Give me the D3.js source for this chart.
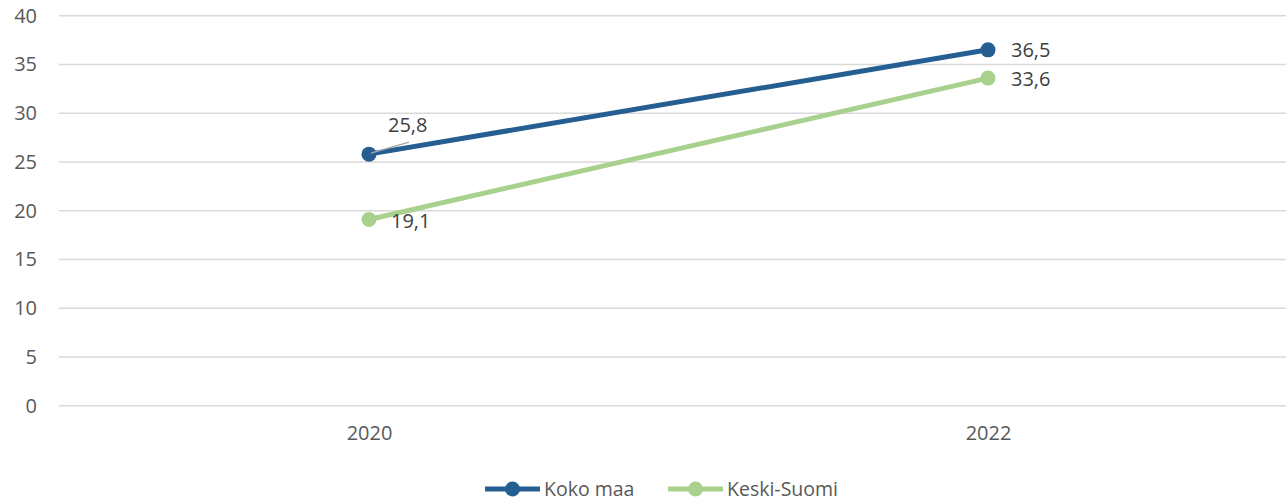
<!DOCTYPE html>
<html>
<head>
<meta charset="utf-8">
<script src="https://cdn.jsdelivr.net/npm/d3@7"></script>
<style>
  html, body { margin: 0; padding: 0; background: #fff; }
  svg { display: block; font-family: "Open Sans", sans-serif; }
</style>
</head>
<body>
<svg id="chart" width="1286" height="501"></svg>
<script>
// Data
const years = ["2020", "2022"];
const kokoMaa = [25.8, 36.5];
const keskiSuomi = [19.1, 33.6];
const yTicks = [0, 5, 10, 15, 20, 25, 30, 35, 40];
const seriesNames = ["Koko maa", "Keski-Suomi"];
const seriesColors = ["#255E91", "#A9D18E"];

const fmt = v => String(v.toFixed(1)).replace(".", ",");

const svg = d3.select("#chart");
const W = 1286;

const x = d3.scalePoint().domain(years).range([369, 988]);
const y = d3.scaleLinear().domain([0, 40]).range([405.7, 15.7]);

const textColor = "#595959";
const fontSize = 20;

// Gridlines
svg.append("g")
  .selectAll("line")
  .data(yTicks)
  .join("line")
  .attr("x1", 59).attr("x2", W)
  .attr("y1", d => y(d)).attr("y2", d => y(d))
  .attr("stroke", "#D9D9D9").attr("stroke-width", 1.5);

// Y axis labels
const yAxis = d3.axisLeft(y).tickValues(yTicks).tickSize(0).tickPadding(0);
const gy = svg.append("g").attr("transform", "translate(37,0)").call(yAxis);
gy.select(".domain").remove();
gy.selectAll("text").attr("fill", textColor).attr("font-size", fontSize)
  .attr("font-family", "Open Sans, sans-serif");

// X axis labels
const xAxis = d3.axisBottom(x).tickSize(0).tickPadding(0);
const gx = svg.append("g").attr("transform", "translate(0,426)").call(xAxis);
gx.select(".domain").remove();
gx.selectAll("text").attr("fill", textColor).attr("font-size", fontSize)
  .attr("font-family", "Open Sans, sans-serif");

const series = [kokoMaa, keskiSuomi];
const line = d3.line().x((d, i) => x(years[i])).y(d => y(d));

// Lines (green drawn first so blue sits on top)
[1, 0].forEach(s => {
  svg.append("path")
    .datum(series[s])
    .attr("d", line)
    .attr("fill", "none")
    .attr("stroke", seriesColors[s])
    .attr("stroke-width", 5)
    .attr("stroke-linecap", "round");
  svg.append("g").selectAll("circle")
    .data(series[s])
    .join("circle")
    .attr("cx", (d, i) => x(years[i]))
    .attr("cy", d => y(d))
    .attr("r", 7.5)
    .attr("fill", seriesColors[s]);
});

// Leader line for the first label
svg.append("line")
  .attr("x1", x(years[0]) + 2).attr("y1", y(kokoMaa[0]) - 1)
  .attr("x2", x(years[0]) + 40).attr("y2", y(kokoMaa[0]) - 12)
  .attr("stroke", "#A6A6A6").attr("stroke-width", 1.5);

// Data labels
const labels = [
  { v: kokoMaa[0], i: 0, dx: 19, dy: -30 },
  { v: keskiSuomi[0], i: 0, dx: 22, dy: 1 },
  { v: kokoMaa[1], i: 1, dx: 23, dy: 0 },
  { v: keskiSuomi[1], i: 1, dx: 23, dy: 0 }
];
svg.append("g").selectAll("text")
  .data(labels)
  .join("text")
  .attr("x", d => x(years[d.i]) + d.dx)
  .attr("y", d => y(d.v) + d.dy)
  .attr("dominant-baseline", "central")
  .attr("fill", "#404040")
  .attr("font-size", fontSize)
  .text(d => fmt(d.v));

// Legend
const legendItems = [
  { name: seriesNames[0], color: seriesColors[0], x0: 485, x1: 540, tx: 544 },
  { name: seriesNames[1], color: seriesColors[1], x0: 668, x1: 723, tx: 727 }
];
const lg = svg.append("g");
legendItems.forEach(d => {
  lg.append("line")
    .attr("x1", d.x0).attr("x2", d.x1).attr("y1", 489).attr("y2", 489)
    .attr("stroke", d.color).attr("stroke-width", 5);
  lg.append("circle")
    .attr("cx", (d.x0 + d.x1) / 2).attr("cy", 489).attr("r", 7.5)
    .attr("fill", d.color);
  lg.append("text")
    .attr("x", d.tx).attr("y", 496)
    .attr("fill", textColor).attr("font-size", 19.5)
    .text(d.name);
});
</script>
</body>
</html>
